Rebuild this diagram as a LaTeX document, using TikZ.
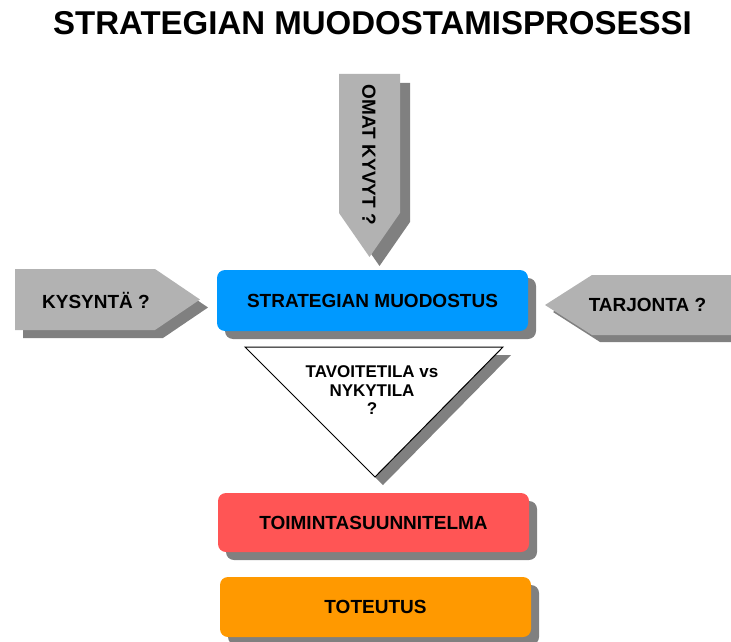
\documentclass[tikz,border=0pt]{standalone}
\usepackage{fontspec}
\setmainfont{Liberation Sans}
\usetikzlibrary{shadows}
\definecolor{SkyBlue}{HTML}{0099FF}
\definecolor{AlarmRed}{HTML}{FF5555}
\definecolor{DeepOrange}{HTML}{FF9900}
\definecolor{ArrowGray}{HTML}{B2B2B2}
\definecolor{ShadowGray}{HTML}{808080}
\newcommand{\fs}[1]{\bfseries\fontsize{#1}{#1}\selectfont}
\tikzset{
  stagebox/.style={rounded corners=8pt,minimum width=311pt,minimum height=60pt,
    inner sep=0pt,font=\fs{19},
    drop shadow={shadow xshift=8pt,shadow yshift=-8pt,fill=ShadowGray,opacity=1}},
  pointer/.style={fill=ArrowGray},
  pointershade/.style={fill=ShadowGray},
  label/.style={font=\fs{19},inner sep=0pt}
}
\begin{document}
\begin{tikzpicture}[x=1pt,y=-1pt]
  \useasboundingbox (0,0) rectangle (731,642);
  % title
  \node[font=\fs{33},anchor=base,inner sep=0pt] (title) at (372.5,35)
    {STRATEGIAN MUODOSTAMISPROSESSI};
  % input pointers
  \fill[pointershade] (349,83) -- (410,83) -- (410,222) -- (379.5,266) -- (349,222) -- cycle;
  \fill[pointer] (339,74) -- (400,74) -- (400,213) -- (369.5,257) -- (339,213) -- cycle;
  \node[label,rotate=-90] (kyvyt) at (369,155) {OMAT KYVYT ?};
  \fill[pointershade] (23,277) -- (163,277) -- (208,307.5) -- (163,338) -- (23,338) -- cycle;
  \fill[pointer] (15,269) -- (155,269) -- (200,299.5) -- (155,330) -- (15,330) -- cycle;
  \node[label] (kysynta) at (96,300) {KYSYNTÄ ?};
  \fill[pointershade] (739,282) -- (600,282) -- (553,312) -- (600,342) -- (739,342) -- cycle;
  \fill[pointer] (731,275) -- (592,275) -- (545,305) -- (592,335) -- (731,335) -- cycle;
  \node[label] (tarjonta) at (647.5,305) {TARJONTA ?};
  % stages
  \node[stagebox,fill=SkyBlue,minimum height=61pt] (muodostus) at (372.5,300.5)
    {STRATEGIAN MUODOSTUS};
  \fill[ShadowGray] (253,355) -- (511,355) -- (383,485) -- cycle;
  \draw[fill=white,line width=1pt] (245,347) -- (503,347) -- (375,477) -- cycle;
  \node[align=center,font=\fs{17},inner sep=0pt] (tila) at (372,390)
    {TAVOITETILA vs\\[2pt]NYKYTILA\\[1pt]?};
  \node[stagebox,fill=AlarmRed,minimum height=59pt] (suunnitelma) at (373.5,522.5)
    {TOIMINTASUUNNITELMA};
  \node[stagebox,fill=DeepOrange] (toteutus) at (375.5,607) {TOTEUTUS};
\end{tikzpicture}
\end{document}
